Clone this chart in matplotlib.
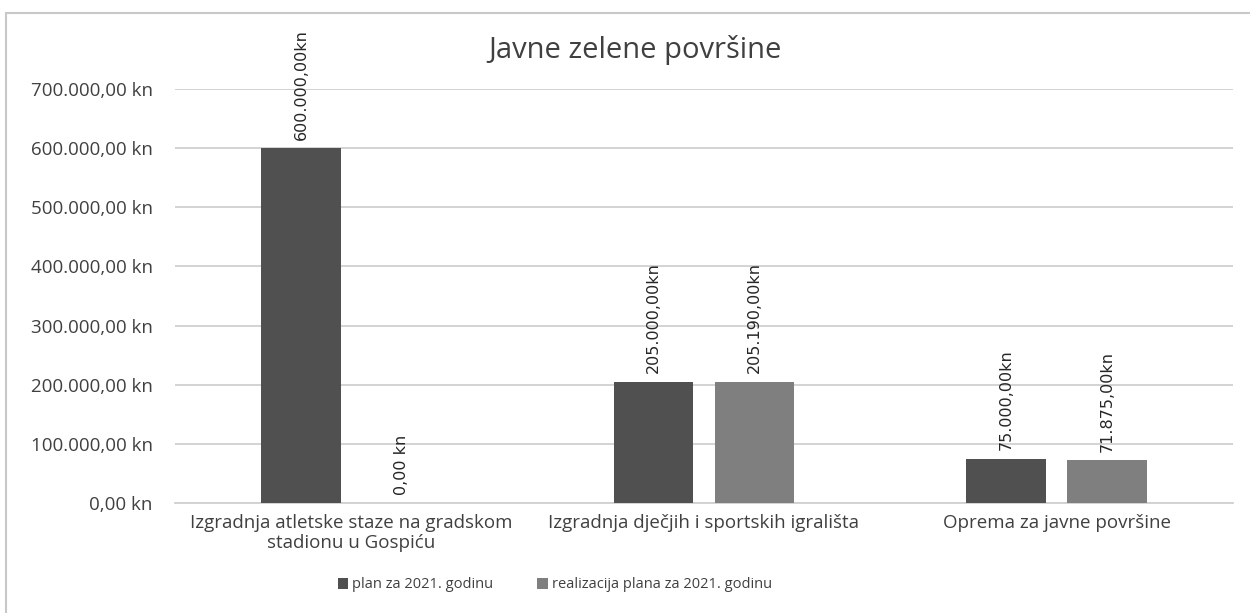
import matplotlib.pyplot as plt
import numpy as np
from matplotlib.patches import Rectangle

categories = ['Izgradnja atletske staze na gradskom\nstadionu u Gospiću',
              'Izgradnja dječjih i sportskih igrališta',
              'Oprema za javne površine']
plan = [600000, 205000, 75000]
realizacija = [0, 205190, 71875]
series_names = ['plan za 2021. godinu', 'realizacija plana za 2021. godinu']
yticks = [0, 100000, 200000, 300000, 400000, 500000, 600000, 700000]


def kn(v):
    s = f'{v:,.2f}'.replace(',', 'X').replace('.', ',').replace('X', '.')
    return s + ' kn'


plt.rcParams['font.family'] = ['Open Sans', 'DejaVu Sans']
txt = '#404040'

fig = plt.figure(figsize=(12.5, 6.13), dpi=100)
fig.patches.append(Rectangle((6 / 1250, -0.1), 1.2, 1 - 13 / 613 + 0.1,
                             transform=fig.transFigure, fill=False,
                             edgecolor='#c8c8c8', linewidth=1.5))
ax = fig.add_axes([175 / 1250, 1 - 503 / 613, (1233 - 175) / 1250, (503 - 89) / 613])

x = np.arange(len(categories))
w = 0.226
off = 0.143
b1 = ax.bar(x - off, plan, w, color='#505050', label=series_names[0], zorder=3)
b2 = ax.bar(x + off, realizacija, w, color='#7f7f7f', label=series_names[1], zorder=3)

for bars in (b1, b2):
    for r in bars:
        h = r.get_height()
        ax.annotate(kn(h).replace(' kn', 'kn') if h > 0 else '0,00 kn',
                    (r.get_x() + r.get_width() / 2, h),
                    xytext=(0, 6), textcoords='offset points',
                    rotation=90, ha='center', va='bottom', fontsize=11.5,
                    color='#262626', family=['Liberation Sans Narrow', 'DejaVu Sans Condensed'],
                    annotation_clip=False)

ax.set_xlim(-0.5, 2.5)
ax.set_ylim(0, 700000)
ax.set_yticks(yticks)
ax.set_yticklabels([kn(v) if v else '0,00 kn' for v in yticks])
ax.set_xticks(x)
ax.set_xticklabels(categories, fontsize=13.5, color=txt, linespacing=1.15)
ax.tick_params(axis='y', labelsize=13.5, labelcolor=txt, length=0, pad=16)
ax.tick_params(axis='x', length=0, pad=8)
ax.grid(axis='y', color='#d0d0d0', linewidth=1.3, zorder=0)
for s in ['top', 'right', 'left']:
    ax.spines[s].set_visible(False)
ax.spines['bottom'].set_color('#d0d0d0')
ax.spines['bottom'].set_linewidth(1.3)

fig.text(635 / 1250, 1 - 50 / 613, 'Javne zelene površine', ha='center', va='center',
         fontsize=21, color=txt)
fig.legend(loc='center', bbox_to_anchor=(555 / 1250, 1 - 585 / 613), ncol=2, frameon=False,
           fontsize=10.5, handlelength=0.7, handleheight=0.7, handletextpad=0.3,
           columnspacing=3.0, labelcolor=txt)

fig.savefig('out.png', dpi=100)
